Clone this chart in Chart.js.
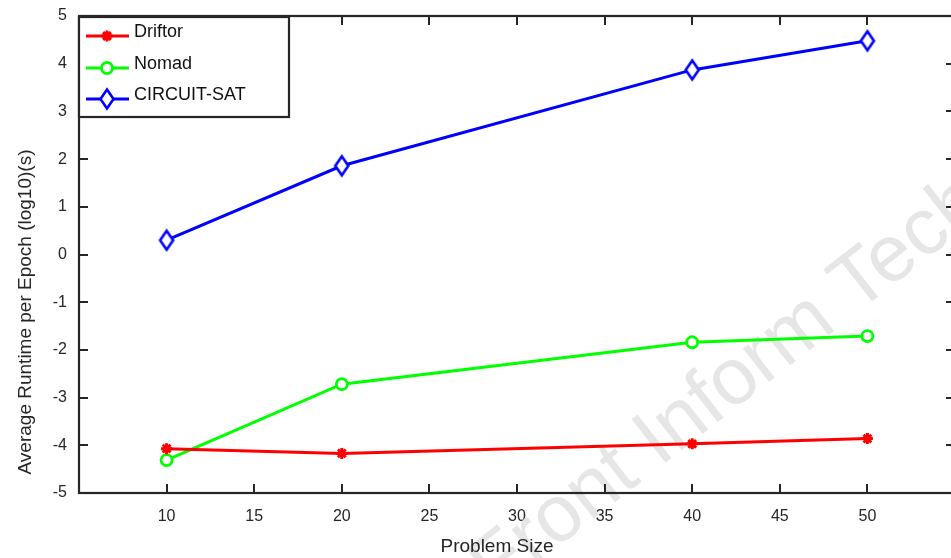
<!DOCTYPE html>
<html>
<head>
<meta charset="utf-8">
<script src="https://cdn.jsdelivr.net/npm/chart.js@4/dist/chart.umd.min.js"></script>
<style>
html,body{margin:0;padding:0;background:#fff;overflow:hidden;}
#wrap{width:951px;height:558px;}
</style>
</head>
<body>
<div id="wrap"><canvas id="c" width="951" height="558"></canvas></div>
<script>
// ---- data ----
const problemSize = [10, 20, 40, 50];
const driftor     = [-4.07, -4.17, -3.97, -3.86];
const nomad       = [-4.31, -2.72, -1.84, -1.71];
const circuitSat  = [0.30, 1.86, 3.87, 4.48];
const xTickValues = [10, 15, 20, 25, 30, 35, 40, 45, 50];
const yTickValues = [-5, -4, -3, -2, -1, 0, 1, 2, 3, 4, 5];
const seriesNames = ['Driftor', 'Nomad', 'CIRCUIT-SAT'];
const xTitle = 'Problem Size';
const yTitle = 'Average Runtime per Epoch (log10)(s)';
const watermark = 'Front Inform Tech';

const AX = '#262626';
const FONT = 'Arial, "Liberation Sans", sans-serif';

// diamond marker image (taller than wide, like MATLAB)
function diamond(color) {
  const c = document.createElement('canvas');
  c.width = 18; c.height = 24;
  const g = c.getContext('2d');
  g.lineWidth = 2.6; g.strokeStyle = color; g.fillStyle = '#fff';
  g.beginPath();
  g.moveTo(9, 2.5); g.lineTo(15.5, 12); g.lineTo(9, 21.5); g.lineTo(2.5, 12); g.closePath();
  g.fill(); g.stroke();
  return c;
}

const pts = (ys) => problemSize.map((x, i) => ({x: x, y: ys[i]}));

const datasets = [
  {label: seriesNames[0], data: pts(driftor), borderColor: '#ff0000', backgroundColor: '#ff0000',
   borderWidth: 3, pointStyle: 'star', pointRadius: 5.5, pointBorderWidth: 3, pointBorderColor: '#ff0000', pointBackgroundColor: '#ff0000'},
  {label: seriesNames[1], data: pts(nomad), borderColor: '#00ff00', backgroundColor: '#ffffff',
   borderWidth: 3, pointStyle: 'circle', pointRadius: 5.5, pointBorderWidth: 2.8, pointBorderColor: '#00ff00', pointBackgroundColor: '#ffffff'},
  {label: seriesNames[2], data: pts(circuitSat), borderColor: '#0000ff', backgroundColor: '#ffffff',
   borderWidth: 3, pointStyle: diamond('#0000ff'), pointRadius: 9, pointBorderWidth: 2.6, pointBorderColor: '#0000ff', pointBackgroundColor: '#ffffff'}
];

// Plot box: top at 16px, and extending a few pixels past the right edge of the canvas (as in the reference).
const extendPlugin = {
  id: 'extend',
  afterLayout(chart) {
    const xs = chart.scales.x, ys = chart.scales.y, a = chart.chartArea;
    const newRight = chart.width + 4;
    const newTop = 16;
    a.right = newRight;
    a.width = newRight - a.left;
    a.top = newTop;
    a.height = a.bottom - newTop;
    xs.right = newRight;
    xs.width = newRight - xs.left;
    xs.configure();
    ys.top = newTop;
    ys.height = ys.bottom - newTop;
    ys.configure();
  }
};

const watermarkPlugin = {
  id: 'wm',
  beforeDatasetsDraw(chart) {
    const ctx = chart.ctx;
    ctx.save();
    ctx.translate(495, 596);
    ctx.rotate(-38 * Math.PI / 180);
    ctx.font = '80px ' + FONT;
    ctx.fillStyle = '#e6e6e6';
    ctx.textBaseline = 'alphabetic';
    ctx.textAlign = 'left';
    ctx.fillText(watermark, 0, 0);
    ctx.restore();
  }
};

const framePlugin = {
  id: 'frame',
  afterDatasetsDraw(chart) {
    const ctx = chart.ctx, a = chart.chartArea;
    const xs = chart.scales.x, ys = chart.scales.y;
    const T = 9;
    ctx.save();
    ctx.strokeStyle = AX; ctx.lineWidth = 2;
    ctx.beginPath();
    xTickValues.forEach(v => {
      const px = Math.round(xs.getPixelForValue(v));
      ctx.moveTo(px, a.bottom); ctx.lineTo(px, a.bottom - T);
      ctx.moveTo(px, a.top); ctx.lineTo(px, a.top + T);
    });
    yTickValues.forEach(v => {
      const py = Math.round(ys.getPixelForValue(v));
      ctx.moveTo(a.left, py); ctx.lineTo(a.left + T, py);
      ctx.moveTo(a.right, py); ctx.lineTo(a.right - T, py);
    });
    ctx.stroke();
    ctx.lineWidth = 2.2;
    ctx.strokeRect(a.left, a.top, a.right - a.left, a.bottom - a.top);

    // axis titles
    ctx.fillStyle = AX;
    ctx.font = '19px ' + FONT;
    ctx.textAlign = 'center'; ctx.textBaseline = 'middle';
    ctx.fillText(xTitle, 497, 547);
    ctx.save();
    ctx.translate(26, 312);
    ctx.rotate(-Math.PI / 2);
    ctx.fillText(yTitle, 0, 0);
    ctx.restore();

    // legend
    const lx = 79, ly = 17, lw = 210, lh = 100;
    ctx.fillStyle = '#fff';
    ctx.fillRect(lx, ly, lw, lh);
    ctx.lineWidth = 2.2; ctx.strokeStyle = AX;
    ctx.strokeRect(lx, ly, lw, lh);
    const rows = [36, 68, 99];
    chart.data.datasets.forEach((ds, i) => {
      const y = rows[i];
      ctx.strokeStyle = ds.borderColor; ctx.lineWidth = ds.borderWidth;
      ctx.beginPath(); ctx.moveTo(86, y); ctx.lineTo(129, y); ctx.stroke();
      ctx.fillStyle = ds.pointBackgroundColor; ctx.strokeStyle = ds.pointBorderColor;
      ctx.lineWidth = ds.pointBorderWidth;
      Chart.helpers.drawPoint(ctx, {pointStyle: ds.pointStyle, radius: ds.pointRadius, rotation: 0, borderWidth: ds.pointBorderWidth}, 107, y);
      ctx.fillStyle = '#111';
      ctx.font = '18px ' + FONT;
      ctx.textAlign = 'left'; ctx.textBaseline = 'middle';
      ctx.fillText(ds.label, 134, y - 4);
    });
    ctx.restore();
  }
};

new Chart(document.getElementById('c'), {
  type: 'line',
  data: {datasets: datasets},
  options: {
    responsive: false,
    animation: false,
    events: [],
    layout: {padding: {top: 11, right: 0, left: 0, bottom: 0}},
    plugins: {legend: {display: false}, tooltip: {enabled: false}},
    elements: {line: {tension: 0}},
    scales: {
      x: {
        type: 'linear', min: 5, max: 55,
        afterBuildTicks(s) { s.ticks = xTickValues.map(v => ({value: v})); },
        afterFit(s) { s.height = 65; },
        grid: {display: false, drawTicks: false, tickLength: 0}, border: {display: false},
        ticks: {color: AX, font: {size: 16, family: FONT}, padding: 14, maxRotation: 0}
      },
      y: {
        type: 'linear', min: -5, max: 5,
        afterBuildTicks(s) { s.ticks = yTickValues.map(v => ({value: v})); },
        afterFit(s) { s.width = 79; },
        grid: {display: false, drawTicks: false, tickLength: 0}, border: {display: false},
        ticks: {color: AX, font: {size: 16, family: FONT}, padding: 12}
      }
    }
  },
  plugins: [extendPlugin, watermarkPlugin, framePlugin]
});
</script>
</body>
</html>
